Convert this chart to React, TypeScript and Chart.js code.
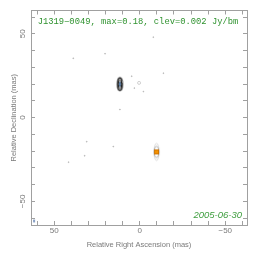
import React, { useEffect, useRef } from 'react';
import { Chart, registerables } from 'chart.js';

Chart.register(...registerables);

const SOURCE_TITLE = 'J1319\u22120049, max=0.18, clev=0.002 Jy/bm';
const EPOCH = '2005-06-30';
const X_TITLE = 'Relative Right Ascension (mas)';
const Y_TITLE = 'Relative Declination (mas)';

const X_MIN = -62.7;
const X_MAX = 63.6;
const Y_MIN = -64.1;
const Y_MAX = 63.9;
const TICK_VALUES = [-60, -50, -40, -30, -20, -10, 0, 10, 20, 30, 40, 50, 60];
const LABELED_TICKS = [-50, 0, 50];

// faint contour fragments (RA offset, Dec offset) in mas
const noiseRA = [-7.9, 38.9, 20.3, -13.8, 4.7, 10.0, 3.2, -2.1, 11.6, 31.0, 15.5, 32.2, 41.6];
const noiseDec = [48.0, 35.4, 38.1, 26.5, 24.7, 21.3, 17.6, 15.5, 4.8, -14.4, -17.3, -22.8, -26.6];
const ringRA = [0.4];
const ringDec = [20.7];
// jet component
const compRA = [11.6];
const compDec = [20.0];
// core
const coreRA = [-9.8];
const coreDec = [-20.5];
// restoring beam
const beamRA = [61.8];
const beamDec = [-61.7];

const toPoints = (xs: number[], ys: number[]) => xs.map((x, i) => ({ x, y: ys[i] }));

const fmt = (v: number) => (v < 0 ? '\u2212' + Math.abs(v) : String(v));

function sprite(w: number, h: number, draw: (g: CanvasRenderingContext2D) => void) {
  const c = document.createElement('canvas');
  c.width = w;
  c.height = h;
  const g = c.getContext('2d')!;
  draw(g);
  return c;
}

const AXIS_COLOR = '#a0a0a0';
const TEXT_COLOR = '#7a7a7a';
const GREEN = '#2f922f';

const annotate = {
  id: 'annotate',
  afterDraw(chart: any) {
    const { ctx, chartArea } = chart;
    ctx.save();
    ctx.fillStyle = GREEN;
    ctx.textBaseline = 'middle';
    ctx.textAlign = 'left';
    ctx.font = '8.8px "Liberation Mono"';
    ctx.fillText(SOURCE_TITLE, chartArea.left + 6.7, chartArea.top + 11);
    ctx.textAlign = 'right';
    ctx.fillStyle = '#3e9e3e';
    ctx.font = 'italic 9.5px "Liberation Sans"';
    ctx.fillText(EPOCH, chartArea.right - 5, chartArea.bottom - 10);
    ctx.restore();
  },
};

export default function App() {
  const ref = useRef<HTMLCanvasElement>(null);

  useEffect(() => {
    const compSprite = sprite(9, 17, (g) => {
      g.strokeStyle = '#111';
      g.lineWidth = 1.5;
      g.beginPath();
      g.ellipse(4.5, 8.5, 2.3, 6.3, 0, 0, Math.PI * 2);
      g.stroke();
      g.strokeStyle = '#333';
      g.lineWidth = 1;
      g.beginPath();
      g.ellipse(4.5, 8.5, 1.2, 4.3, 0, 0, Math.PI * 2);
      g.stroke();
      g.fillStyle = '#4f8fd8';
      g.beginPath();
      g.ellipse(4.5, 8.5, 0.6, 2.6, 0, 0, Math.PI * 2);
      g.fill();
    });
    const coreSprite = sprite(11, 23, (g) => {
      g.strokeStyle = '#cfcfcf';
      g.lineWidth = 0.8;
      g.beginPath();
      g.ellipse(5.5, 11.5, 2.6, 8.5, 0, 0, Math.PI * 2);
      g.stroke();
      g.strokeStyle = '#a8a8a8';
      g.lineWidth = 0.9;
      g.beginPath();
      g.ellipse(5.5, 11.5, 2.4, 5.5, 0, 0, Math.PI * 2);
      g.stroke();
      g.fillStyle = '#d07400';
      g.fillRect(3, 9, 5, 5);
      g.fillStyle = '#f29200';
      g.fillRect(4, 10, 3, 3);
    });
    const beamSprite = sprite(4, 6, (g) => {
      g.fillStyle = '#6a88b8';
      g.beginPath();
      g.ellipse(2, 3, 0.9, 1.8, 0, 0, Math.PI * 2);
      g.fill();
    });

    const setTicks = (s: any) => {
      s.ticks = TICK_VALUES.map((v) => ({ value: v }));
    };
    const grid = { drawOnChartArea: false, drawTicks: true, tickLength: -4, color: AXIS_COLOR };
    const border = { color: AXIS_COLOR, width: 1 };
    const tickFont = { family: '"Liberation Sans"', size: 8 };
    const titleFont = { family: '"Liberation Sans"', size: 7.5 };

    const chart = new Chart(ref.current!, {
      type: 'scatter',
      data: {
        datasets: [
          {
            data: toPoints(noiseRA, noiseDec),
            pointStyle: 'circle',
            pointRadius: 0.45,
            borderWidth: 0.6,
            borderColor: '#a4a4a4',
            backgroundColor: '#b8b8b8',
          },
          {
            data: toPoints(ringRA, ringDec),
            pointStyle: 'circle',
            pointRadius: 1.5,
            borderWidth: 0.6,
            borderColor: '#b4b4b4',
            backgroundColor: 'transparent',
          },
          { data: toPoints(compRA, compDec), pointStyle: compSprite as any },
          { data: toPoints(coreRA, coreDec), pointStyle: coreSprite as any },
          { data: toPoints(beamRA, beamDec), pointStyle: beamSprite as any },
        ],
      },
      options: {
        animation: false,
        responsive: false,
        devicePixelRatio: 1,
        layout: { padding: { left: 0, right: 17, top: 9, bottom: 0 } },
        plugins: { legend: { display: false }, tooltip: { enabled: false } },
        events: [],
        scales: {
          x: {
            type: 'linear',
            position: 'bottom',
            min: X_MIN,
            max: X_MAX,
            reverse: true,
            afterBuildTicks: setTicks,
            afterFit: (s: any) => {
              s.height = 37;
            },
            ticks: {
              autoSkip: false,
              maxRotation: 0,
              minRotation: 0,
              padding: 5,
              color: TEXT_COLOR,
              font: tickFont,
              callback: (v: any) => (LABELED_TICKS.includes(v) ? fmt(v) : ''),
            },
            grid,
            border,
            title: {
              display: true,
              text: X_TITLE,
              color: TEXT_COLOR,
              font: titleFont,
              padding: { top: 0, bottom: 12.2 },
            },
          },
          x2: {
            type: 'linear',
            position: 'top',
            min: X_MIN,
            max: X_MAX,
            reverse: true,
            afterBuildTicks: setTicks,
            afterFit: (s: any) => {
              s.height = 0;
            },
            ticks: { display: false },
            grid,
            border,
          },
          y: {
            type: 'linear',
            position: 'left',
            min: Y_MIN,
            max: Y_MAX,
            afterBuildTicks: setTicks,
            afterFit: (s: any) => {
              s.width = 31;
            },
            ticks: {
              autoSkip: false,
              minRotation: 90,
              maxRotation: 90,
              crossAlign: 'center',
              padding: 5.7,
              color: TEXT_COLOR,
              font: tickFont,
              callback: (v: any) => (LABELED_TICKS.includes(v) ? fmt(v) : ''),
            },
            grid,
            border,
            title: {
              display: true,
              text: Y_TITLE,
              color: TEXT_COLOR,
              font: titleFont,
              padding: { top: 9.2, bottom: 0 },
            },
          },
          y2: {
            type: 'linear',
            position: 'right',
            min: Y_MIN,
            max: Y_MAX,
            afterBuildTicks: setTicks,
            afterFit: (s: any) => {
              s.width = 0;
            },
            ticks: { display: false },
            grid,
            border,
          },
        },
      } as any,
      plugins: [annotate],
    });
    return () => chart.destroy();
  }, []);

  return (
    <div style={{ position: 'absolute', left: 0, top: 0, width: 264, height: 262, background: '#fff' }}>
      <canvas ref={ref} width={264} height={262} style={{ display: 'block', width: 264, height: 262 }} />
    </div>
  );
}
